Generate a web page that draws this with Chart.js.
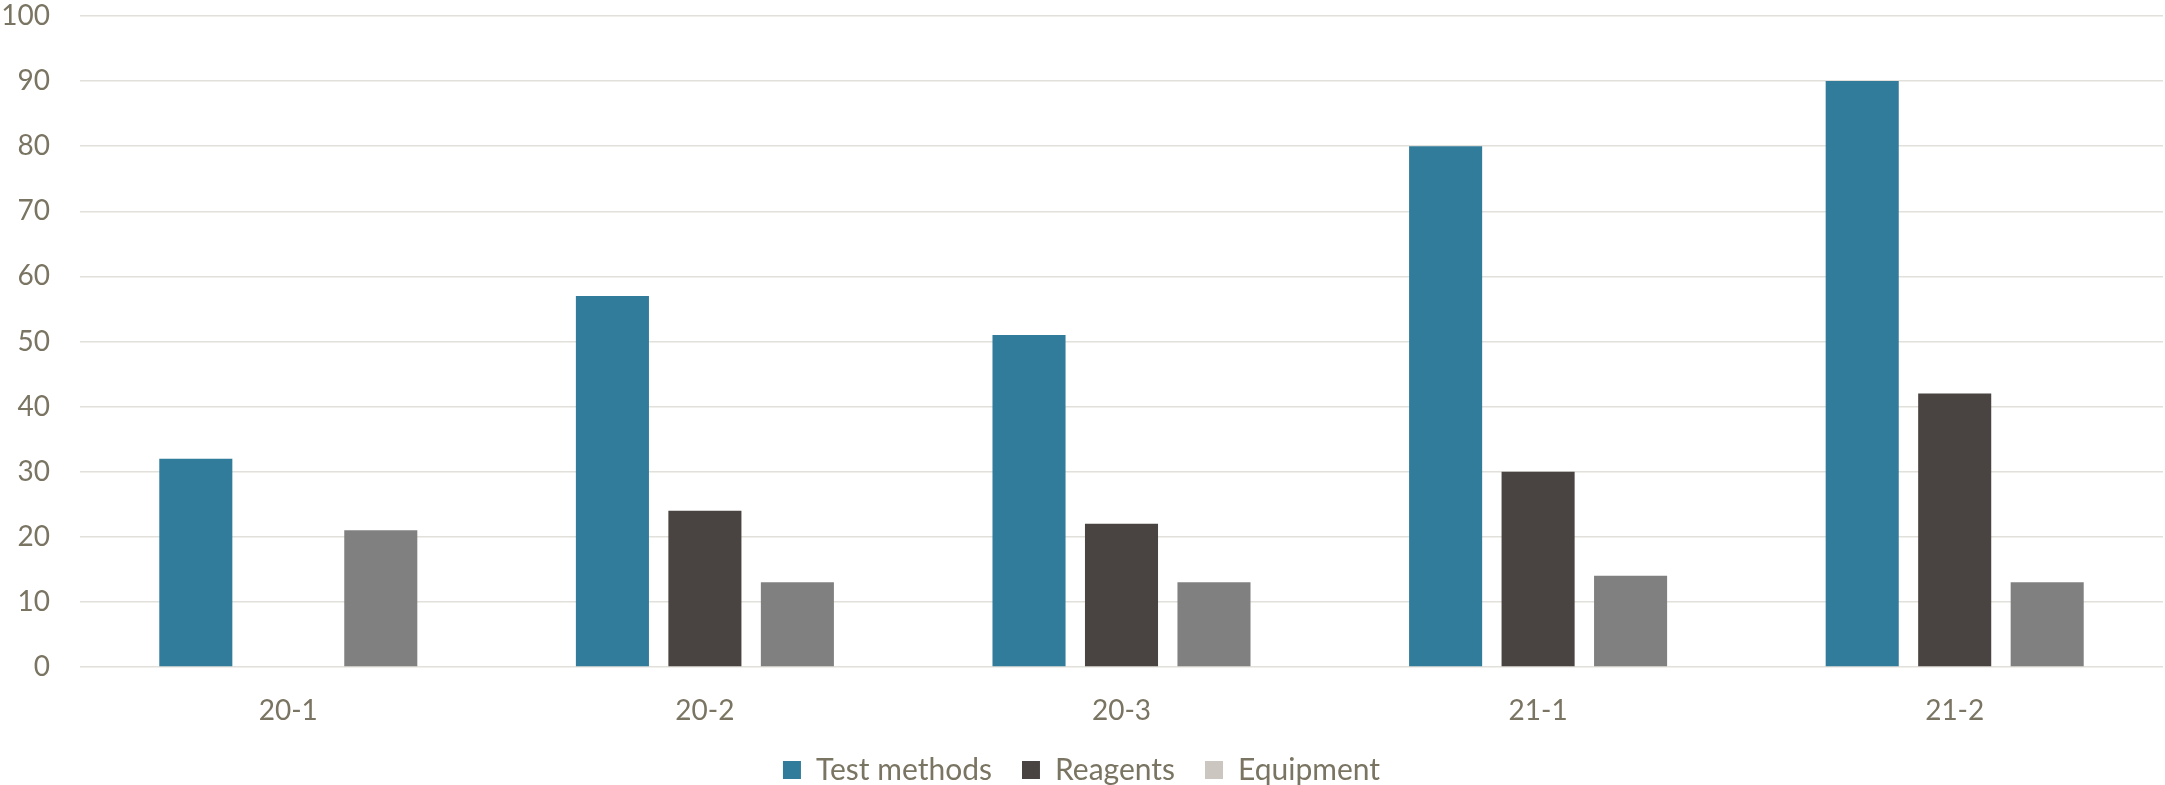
<!DOCTYPE html>
<html lang="en">
<head>
  <meta charset="UTF-8">
  <title>Test methods, reagents and equipment</title>
  <script src="https://cdn.jsdelivr.net/npm/chart.js"></script>
  <style>
    html, body {
      margin: 0;
      padding: 0;
      background: #fff;
    }
    .chart-container {
      position: relative;
      width: 2165px;
      height: 785px;
    }
  </style>
</head>
<body>
  <div class="chart-container">
    <canvas id="barChart"></canvas>
  </div>

  <script>
    const periods = ['20-1', '20-2', '20-3', '21-1', '21-2'];
    const testMethods = [32, 57, 51, 80, 90];
    const reagents = [null, 24, 22, 30, 42];
    const equipment = [21, 13, 13, 14, 13];

    const textColor = '#7a7462';
    const gridColor = '#e2e0da';
    const font = { family: 'Lato', size: 28 };

    // legend swatch for Equipment is lighter than the bars in the original
    const legendFills = ['#317b9b', '#494441', '#cbc7c0'];

    const chart = new Chart(document.getElementById('barChart').getContext('2d'), {
      type: 'bar',
      data: {
        labels: periods,
        datasets: [
          { label: 'Test methods', data: testMethods, backgroundColor: '#317b9b' },
          { label: 'Reagents', data: reagents, backgroundColor: '#494441' },
          { label: 'Equipment', data: equipment, backgroundColor: '#808080' }
        ]
      },
      options: {
        responsive: true,
        maintainAspectRatio: false,
        animation: false,
        categoryPercentage: 0.666,
        barPercentage: 0.79,
        layout: { padding: { top: 16, right: 2, left: 0, bottom: -10 } },
        scales: {
          x: {
            grid: { display: false, drawTicks: false },
            border: { display: false },
            ticks: { color: textColor, font: font, padding: 27 },
            afterFit: (scale) => { scale.height = 58; }
          },
          y: {
            min: 0,
            max: 100,
            grid: { color: gridColor, lineWidth: 1.5, drawTicks: false },
            border: { display: false },
            ticks: { stepSize: 10, color: textColor, font: font, padding: 30 },
            afterFit: (scale) => {
              scale.width = 80;
              scale.paddingTop = 0;
              scale.paddingBottom = 0;
            }
          }
        },
        plugins: {
          legend: {
            position: 'bottom',
            labels: {
              color: textColor,
              font: { family: 'Lato', size: 30 },
              boxWidth: 18,
              boxHeight: 18,
              padding: 30,
              generateLabels: (c) => {
                const items = Chart.defaults.plugins.legend.labels.generateLabels(c);
                items.forEach((item, i) => {
                  item.fillStyle = legendFills[i];
                  item.strokeStyle = legendFills[i];
                  item.lineWidth = 0;
                });
                return items;
              }
            }
          },
          tooltip: { enabled: false }
        }
      }
    });
  </script>
</body>
</html>
